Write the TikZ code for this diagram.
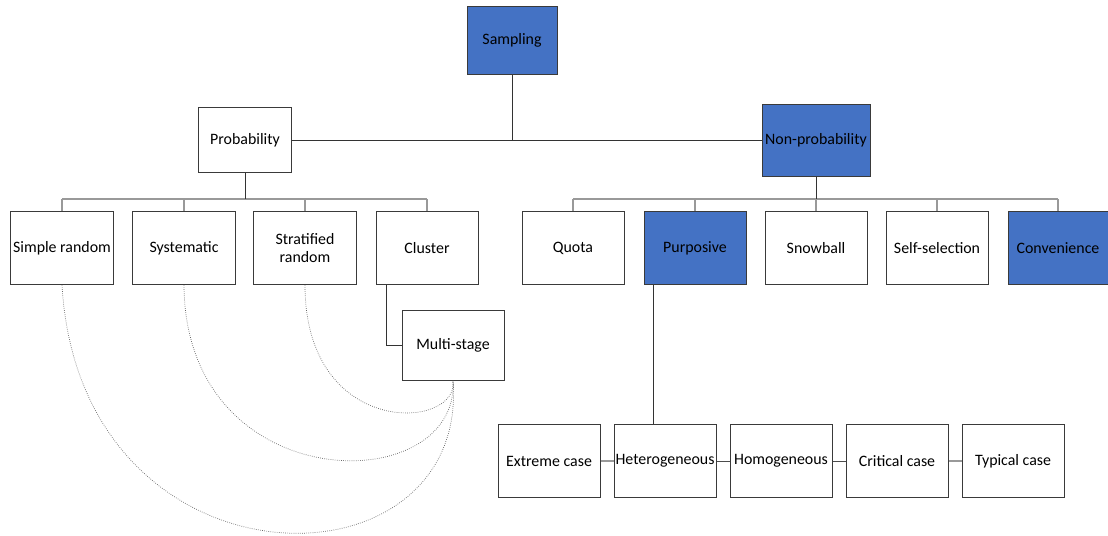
\documentclass[tikz,border=0pt]{standalone}
\usepackage{fontspec}
\setmainfont{Carlito}
\usepackage{xcolor}
\usepackage{tikz}
\usetikzlibrary{positioning, calc}
\definecolor{sampleBlue}{HTML}{4472C4}
\definecolor{sampleEdge}{HTML}{3A3A3A}

\begin{document}
\begin{tikzpicture}[
  x=0.025cm, y=-0.025cm,
  font=\fontsize{11.3}{12.8}\selectfont,
  box/.style={draw=sampleEdge, line width=0.7pt, minimum width=2.55cm,
              minimum height=1.82cm, align=center, inner sep=1pt, fill=white},
  bluebox/.style={box, fill=sampleBlue},
  stem/.style={draw=black!80, line width=0.7pt},
  bar/.style={draw=black!40, line width=0.8pt},
  link/.style={draw=black!70, line width=0.7pt},
  curve/.style={draw=black!60, densely dotted, line width=0.5pt}
]
\useasboundingbox (0,0) rectangle (1108,535);

\node[bluebox, minimum width=2.25cm, minimum height=1.7cm] (sampling) at (512,40) {Sampling};
\node[box, minimum width=2.33cm, minimum height=1.63cm] (prob) at (245,140) {Probability};
\node[bluebox, minimum width=2.7cm, minimum height=1.8cm] (nonprob) at (816,140) {Non-probability};

\node[box] (simple) at (62,248) {Simple random};
\node[box] (system) at (184,248) {Systematic};
\node[box] (strat) at (305,248) {Stratified\\random};
\node[box] (cluster) at (427,248) {Cluster};
\node[box, minimum height=1.75cm] (multi) at (453,345) {Multi-stage};

\node[box] (quota) at (573,248) {Quota};
\node[bluebox] (purp) at (695,248) {Purposive};
\node[box] (snow) at (816,248) {Snowball};
\node[box] (self) at (937,248) {Self-selection};
\node[bluebox, minimum width=2.5cm] (conv) at (1058,248) {Convenience};

\node[box] (extreme) at (549,461) {Extreme case};
\node[box] (hetero) at (665,461) {Heterogeneous};
\node[box] (homo) at (781,461) {Homogeneous};
\node[box] (crit) at (897,461) {Critical case};
\node[box] (typ) at (1013,461) {Typical case};

\coordinate (pbar) at (245,199);
\coordinate (nbar) at (816,199);

\draw[stem] (sampling.south) -- (sampling.south |- prob.east);
\draw[stem] (prob.east) -- (nonprob.west);

\draw[bar] (simple.north |- pbar) -- (cluster.north |- pbar);
\foreach \n in {simple,system,strat,cluster}
  \draw[bar] (\n.north) -- (\n.north |- pbar);
\draw[stem] (prob.south) -- (pbar);

\draw[bar] (quota.north |- nbar) -- (conv.north |- nbar);
\foreach \n in {quota,purp,snow,self,conv}
  \draw[bar] (\n.north) -- (\n.north |- nbar);
\draw[stem] (nonprob.south) -- (nbar);

\draw[stem] ([xshift=-1.02cm]cluster.south) |- (multi.west);
\draw[stem] ([xshift=-0.28cm]hetero.north) -- ([xshift=-0.28cm]hetero.north |- purp.south);

\draw[bar] (extreme) -- (hetero);
\draw[link] (hetero) -- (homo);
\draw[link] (homo) -- (crit);
\draw[bar] (crit) -- (typ);

\draw[curve] (strat.south) .. controls (305,440) and (460,430) .. (multi.south);
\draw[curve] (system.south) .. controls (185,500) and (460,500) .. (multi.south);
\draw[curve] (simple.south) .. controls (80,598) and (470,598) .. (multi.south);

\end{tikzpicture}
\end{document}
